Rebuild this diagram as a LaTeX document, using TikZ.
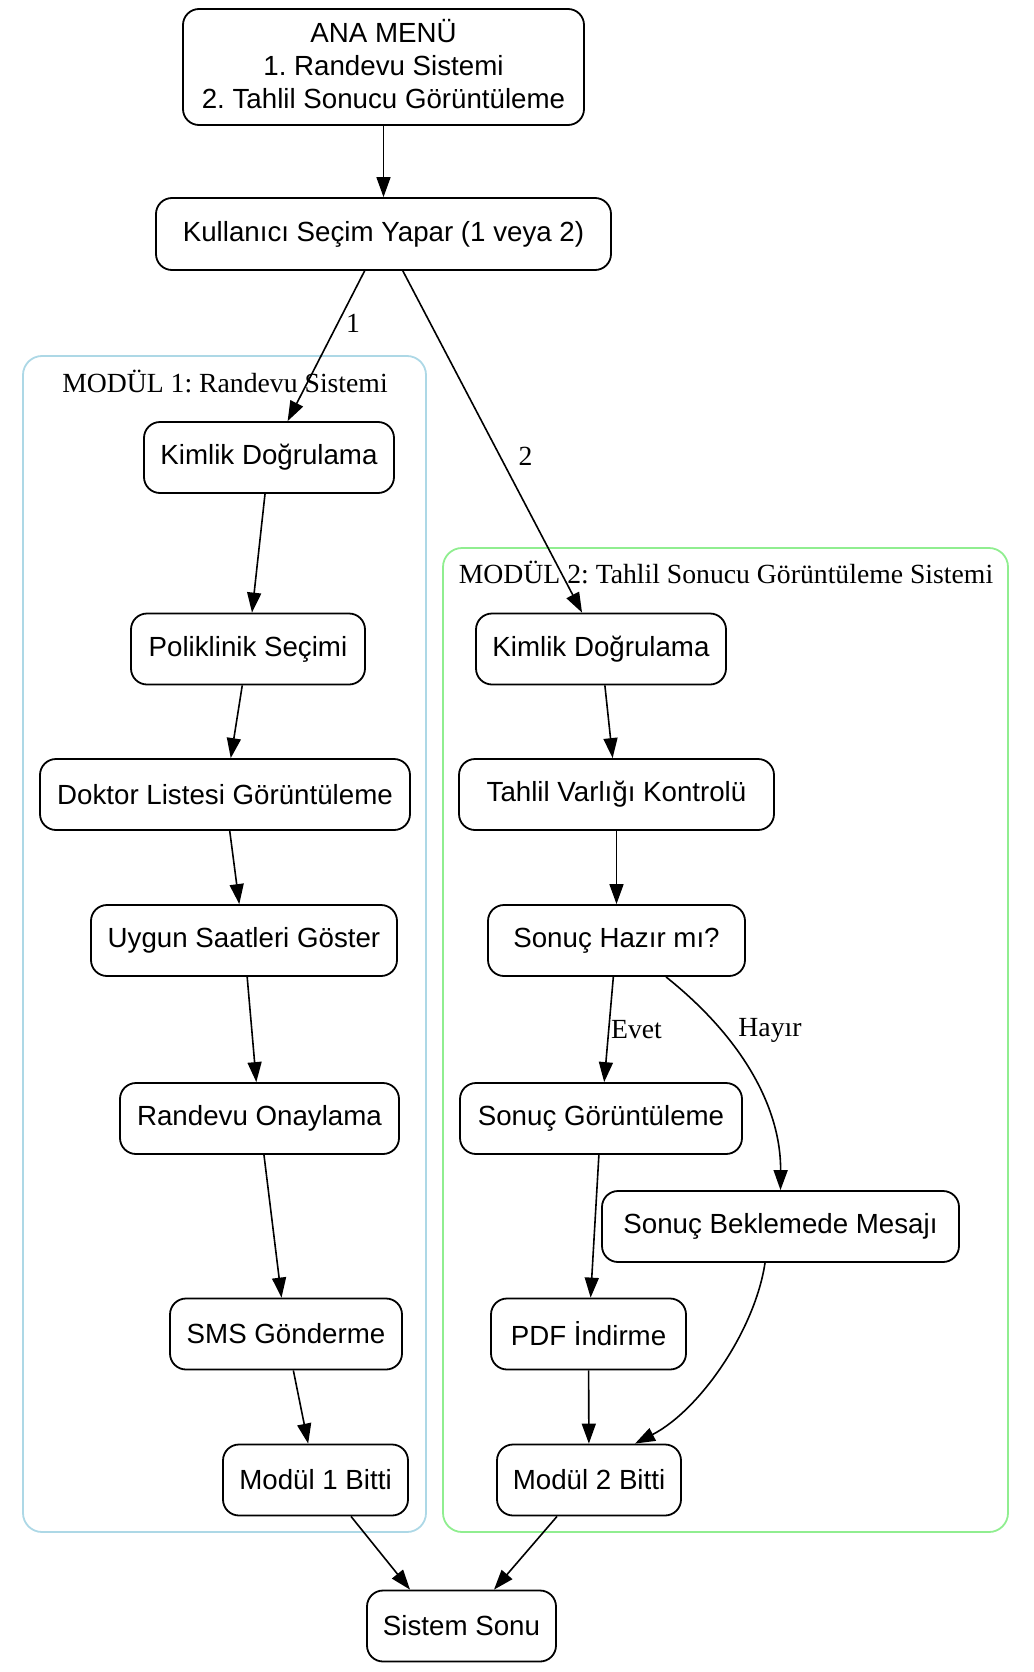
\documentclass[tikz,border=0pt]{standalone}
\usepackage{fontspec}
\setmainfont{Liberation Serif}
\newfontfamily\arialf{Liberation Sans}
\usetikzlibrary{arrows.meta}
\frenchspacing

\begin{document}
\begin{tikzpicture}[x=1pt,y=-1pt,
    box/.style={draw, rounded corners=16pt, line width=1.8pt, minimum height=71pt, inner sep=0pt,
      align=center, font=\arialf\fontsize{27.7}{33}\selectfont},
    arr/.style={-{Triangle[length=20pt,width=14pt]}, line width=1.6pt},
    lbl/.style={inner sep=0pt, font=\fontsize{27.7}{33}\selectfont},
    clus/.style={rounded corners=19pt, line width=1.8pt}]
  \useasboundingbox (0,0) rectangle (1033,1672);

  \draw [clus, draw={rgb,255:red,173;green,216;blue,230}] (23,356) rectangle (426,1532);
  \draw [clus, draw={rgb,255:red,144;green,238;blue,144}] (443,548) rectangle (1008,1532);
  \node [lbl] (c1) at (225,381) {MODÜL 1: Randevu Sistemi};
  \node [lbl] (c2) at (726,572) {MODÜL 2: Tahlil Sonucu Görüntüleme Sistemi};

  \node [box, minimum width=401pt, minimum height=116pt] (ana) at (383.5,67)
    {ANA MENÜ\\1. Randevu Sistemi\\2. Tahlil Sonucu Görüntüleme\rule[-7pt]{0pt}{7pt}};
  \node [box, minimum width=455pt, minimum height=72pt] (sel) at (383.5,234) {Kullanıcı Seçim Yapar (1 veya 2)};

  \node [box, minimum width=250pt] (k1)  at (269,457.5)  {Kimlik Doğrulama};
  \node [box, minimum width=234pt] (pol) at (248,649)    {Poliklinik Seçimi};
  \node [box, minimum width=370pt] (dok) at (225,794.5)  {Doktor Listesi Görüntüleme};
  \node [box, minimum width=306pt] (uyg) at (244,940.5)  {Uygun Saatleri Göster};
  \node [box, minimum width=279pt] (ron) at (259.5,1118.5) {Randevu Onaylama};
  \node [box, minimum width=232pt] (sms) at (286,1334)   {SMS Gönderme};
  \node [box, minimum width=185pt] (m1)  at (315.5,1480) {Modül 1 Bitti};

  \node [box, minimum width=250pt] (k2)   at (601,649)     {Kimlik Doğrulama};
  \node [box, minimum width=315pt] (tah)  at (616.5,794.5) {Tahlil Varlığı Kontrolü};
  \node [box, minimum width=257pt] (haz)  at (616.5,940.5) {Sonuç Hazır mı?};
  \node [box, minimum width=282pt] (sgor) at (601,1118.5)  {Sonuç Görüntüleme};
  \node [box, minimum width=357pt] (bek)  at (780.5,1226.5) {Sonuç Beklemede Mesajı};
  \node [box, minimum width=195pt] (pdf)  at (588.5,1334)  {PDF İndirme};
  \node [box, minimum width=184pt] (m2)   at (589,1480)    {Modül 2 Bitti};

  \node [box, minimum width=189pt] (son) at (461.5,1626) {Sistem Sonu};

  \draw [arr] (ana) -- (sel);
  \draw [arr] (sel) -- (k1);
  \draw [arr] (sel) -- (k2);
  \node [lbl] (l1) at (353,323) {1};
  \node [lbl] (l2) at (525.5,456) {2};

  \draw [arr] (k1) -- (pol);
  \draw [arr] (pol) -- (dok);
  \draw [arr] (dok) -- (uyg);
  \draw [arr] (uyg) -- (ron);
  \draw [arr] (ron) -- (sms);
  \draw [arr] (sms) -- (m1);

  \draw [arr] (k2) -- (tah);
  \draw [arr] (tah) -- (haz);
  \draw [arr] (haz) -- (sgor);
  \draw [arr] ([xshift=49.5pt]haz.south) .. controls (745,1040) and (781,1110) .. (bek.north);
  \node [lbl] (le) at (636.5,1030) {Evet};
  \node [lbl] (lh) at (770,1030) {Hayır};
  \draw [arr] (sgor) -- (pdf);
  \draw [arr] (pdf) -- (m2);
  \draw [arr] ([xshift=-15.5pt]bek.south) .. controls (755,1330) and (700,1410) .. ([xshift=46pt]m2.north);

  \draw [arr] ([xshift=35.5pt]m1.south) -- ([xshift=-51.5pt]son.north);
  \draw [arr] ([xshift=-32pt]m2.south) -- ([xshift=32.5pt]son.north);
\end{tikzpicture}
\end{document}
